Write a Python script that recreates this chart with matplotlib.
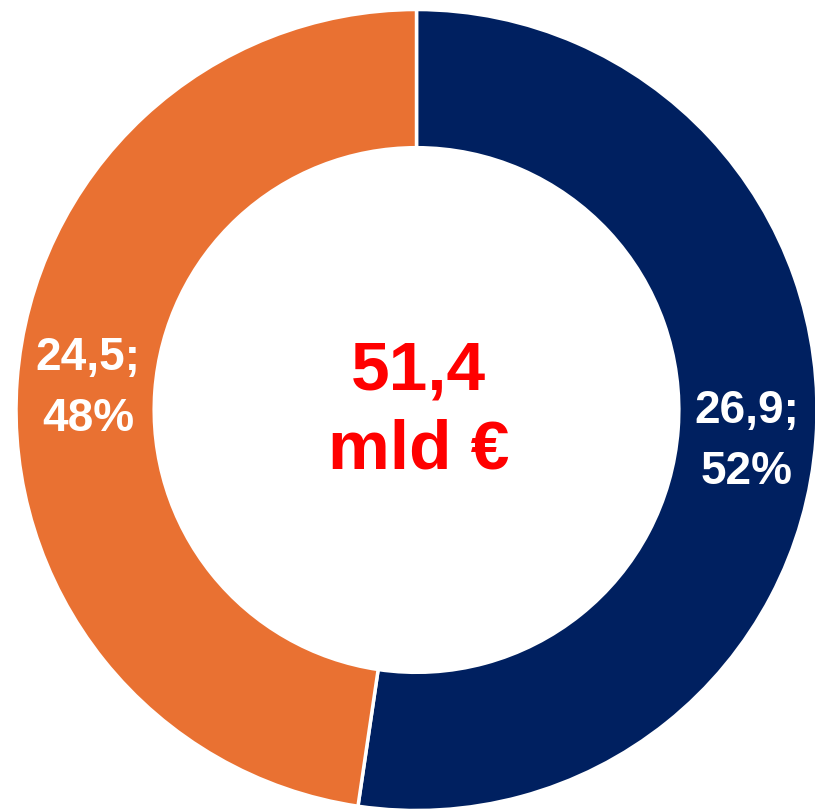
import matplotlib
matplotlib.use("Agg")
import matplotlib.pyplot as plt

categories = ["A", "B"]
values = [26.9, 24.5]
percents = ["52%", "48%"]
value_labels = ["26,9", "24,5"]
total_label = "51,4\nmld €"
colors = ["#002060", "#E97132"]

plt.rcParams['font.family'] = ['Liberation Sans', 'DejaVu Sans']

fig = plt.figure(figsize=(8.15, 8.12), dpi=100)
ax = fig.add_axes([0, 0, 1, 1])
ax.pie(values, colors=colors, startangle=90, counterclock=False, radius=1.0,
       wedgeprops=dict(width=0.345, edgecolor="white", linewidth=2.5))
ax.set_xlim(-1.04, 0.995)
ax.set_ylim(-1.0, 1.025)
ax.set_aspect("equal")
ax.axis("off")

label_pos = [(0.825, -0.075), (-0.82, 0.055)]
for (x, y), v, p in zip(label_pos, value_labels, percents):
    ax.text(x, y, f"{v};\n{p}", ha="center", va="center", color="white",
            fontsize=33, fontweight="bold", linespacing=1.5)

ax.text(0.005, 0.0, total_label, ha="center", va="center", color="#FF0000",
        fontsize=50, fontweight="bold", linespacing=1.3)

fig.savefig("out.png", dpi=100)
